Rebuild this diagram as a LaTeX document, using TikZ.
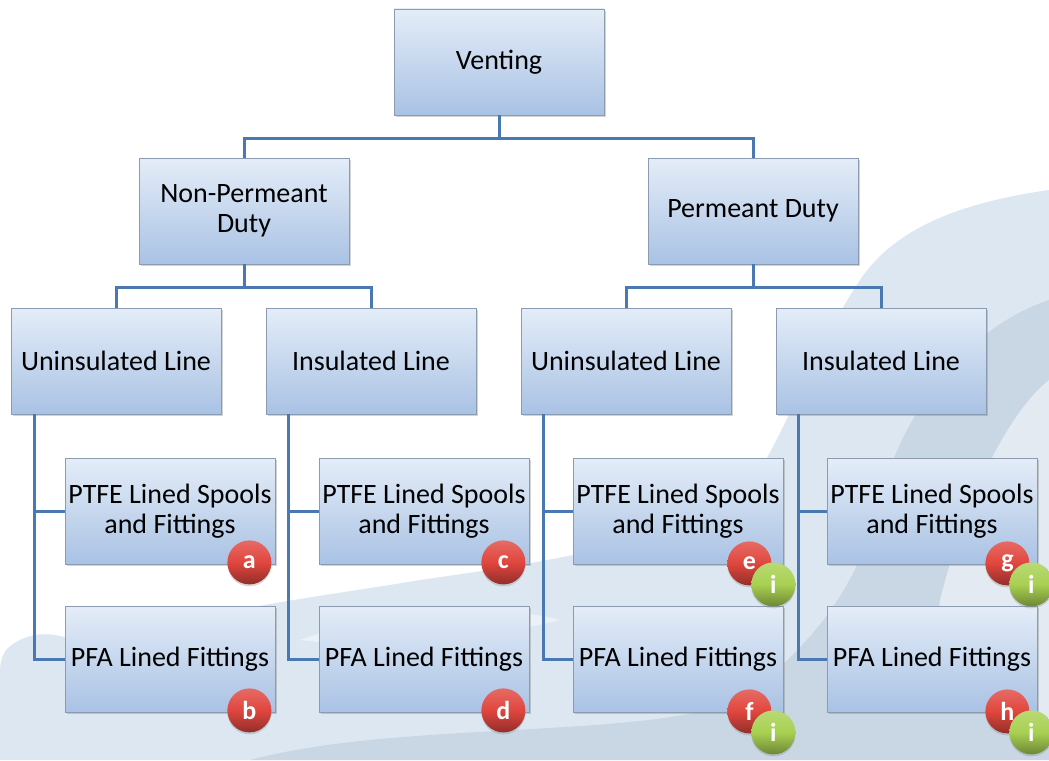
\documentclass[tikz,border=0pt]{standalone}
\usepackage{fontspec}
\setmainfont{Carlito}
\usetikzlibrary{calc,shadows}

\definecolor{linkblue}{HTML}{4A78B0}
\definecolor{boxtop}{HTML}{E4EDF8}
\definecolor{boxbot}{HTML}{A9C2E4}
\definecolor{boxedge}{HTML}{8C9CB0}
\definecolor{splash}{HTML}{D3E1EE}
\definecolor{splashdk}{HTML}{BCCDDD}
\definecolor{badgered}{HTML}{E0463E}
\definecolor{badgegreen}{HTML}{A8D052}

\tikzset{
  box/.style={draw=boxedge, line width=0.8pt, top color=boxtop, bottom color=boxbot,
    minimum width=210pt, minimum height=106pt, align=center, inner sep=2pt,
    font=\fontsize{28}{30}\selectfont,
    drop shadow={opacity=0.35, shadow xshift=2pt, shadow yshift=-2pt}},
  link/.style={draw=linkblue, line width=3pt},
  badge/.style={circle, minimum size=44pt, inner sep=0pt,
    top color=#1!80!white, bottom color=#1!65!black, middle color=#1,
    text=white, font=\fontsize{26}{26}\selectfont\bfseries,
    drop shadow={opacity=0.3, shadow xshift=0pt, shadow yshift=-2pt}},
  redbadge/.style={badge=badgered},
  greenbadge/.style={badge=badgegreen}
}

\begin{document}
\begin{tikzpicture}[x=1pt, y=-1pt]

\useasboundingbox (0,0) rectangle (1049,760);

% water splash in the background
\fill[splash, opacity=0.8] (1049,190) .. controls (980,200) and (900,220) .. (860,280)
  .. controls (820,340) and (790,420) .. (760,470)
  .. controls (700,540) and (560,560) .. (420,580)
  .. controls (300,600) and (200,610) .. (140,640)
  .. controls (90,660) and (60,620) .. (20,640)
  .. controls (0,650) and (0,660) .. (0,680)
  -- (0,760) -- (1049,760) -- cycle;
\fill[splashdk, opacity=0.6] (1049,300) .. controls (960,330) and (900,420) .. (880,500)
  .. controls (860,580) and (820,640) .. (740,700)
  .. controls (640,740) and (400,720) .. (250,760)
  -- (1049,760) -- cycle;
\fill[white, opacity=0.5] (1049,380) .. controls (1000,420) and (960,520) .. (940,600)
  .. controls (930,660) and (1000,700) .. (1049,720) -- cycle;
\fill[white, opacity=0.45] (300,640) .. controls (380,610) and (480,600) .. (560,620)
  .. controls (480,640) and (380,650) .. (300,640) -- cycle;

% boxes
\node[box] (venting) at (499,62) {Venting};
\node[box] (npd) at (244,211) {Non-Permeant\\Duty};
\node[box] (pd) at (753,211) {Permeant Duty};

\node[box] (npdU) at (116,361) {Uninsulated Line};
\node[box] (npdI) at (371,361) {Insulated Line};
\node[box] (pdU) at (626,361) {Uninsulated Line};
\node[box] (pdI) at (881,361) {Insulated Line};

\node[box] (npdUs) at (170,511) {PTFE Lined Spools\\and Fittings};
\node[box] (npdUf) at (170,659) {PFA Lined Fittings};
\node[box] (npdIs) at (424,511) {PTFE Lined Spools\\and Fittings};
\node[box] (npdIf) at (424,659) {PFA Lined Fittings};
\node[box] (pdUs) at (678,511) {PTFE Lined Spools\\and Fittings};
\node[box] (pdUf) at (678,659) {PFA Lined Fittings};
\node[box] (pdIs) at (932,511) {PTFE Lined Spools\\and Fittings};
\node[box] (pdIf) at (932,659) {PFA Lined Fittings};

% connectors
\draw[link] (venting.south) -- ++(0,23) -| (npd.north);
\draw[link] (venting.south) -- ++(0,23) -| (pd.north);
\draw[link] (npd.south) -- ++(0,23) -| (npdU.north);
\draw[link] (npd.south) -- ++(0,23) -| (npdI.north);
\draw[link] (pd.south) -- ++(0,23) -| (pdU.north);
\draw[link] (pd.south) -- ++(0,23) -| (pdI.north);

\draw[link] ($(npdU.south west)+(24,0)$) |- (npdUs.west);
\draw[link] ($(npdU.south west)+(24,0)$) |- (npdUf.west);
\draw[link] ($(npdI.south west)+(23,0)$) |- (npdIs.west);
\draw[link] ($(npdI.south west)+(23,0)$) |- (npdIf.west);
\draw[link] ($(pdU.south west)+(23,0)$) |- (pdUs.west);
\draw[link] ($(pdU.south west)+(23,0)$) |- (pdUf.west);
\draw[link] ($(pdI.south west)+(23,0)$) |- (pdIs.west);
\draw[link] ($(pdI.south west)+(23,0)$) |- (pdIf.west);

% badges
\node[redbadge] (ba) at ($(npdUs.south east)+(-26,-2)$) {a};
\node[redbadge] (bb) at ($(npdUf.south east)+(-26,-2)$) {b};
\node[redbadge] (bc) at ($(npdIs.south east)+(-26,-2)$) {c};
\node[redbadge] (bd) at ($(npdIf.south east)+(-26,-2)$) {d};
\node[redbadge] (be) at ($(pdUs.south east)+(-34,-1)$) {e};
\node[greenbadge] (ie) at ($(be)+(24,21)$) {i};
\node[redbadge] (bf) at ($(pdUf.south east)+(-34,-1)$) {f};
\node[greenbadge] (if) at ($(bf)+(24,21)$) {i};
\node[redbadge] (bg) at ($(pdIs.south east)+(-30,-1)$) {g};
\node[greenbadge] (ig) at ($(bg)+(24,21)$) {i};
\node[redbadge] (bh) at ($(pdIf.south east)+(-30,-1)$) {h};
\node[greenbadge] (ih) at ($(bh)+(24,21)$) {i};

\end{tikzpicture}
\end{document}
